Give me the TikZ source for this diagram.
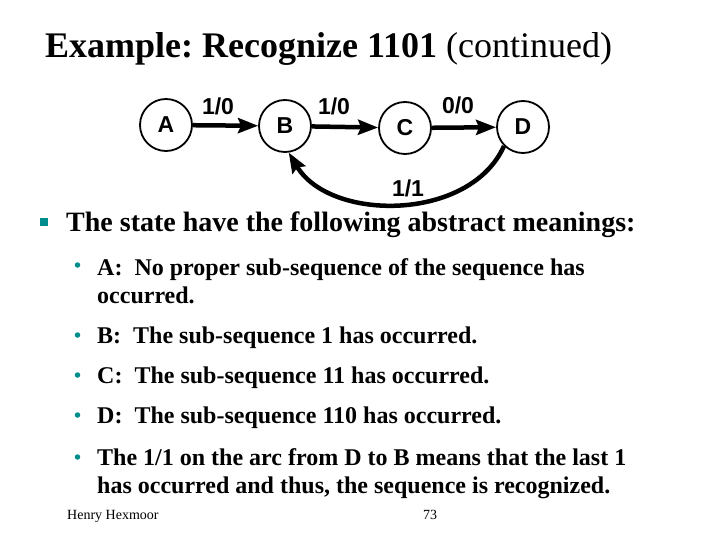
\documentclass[tikz,border=0pt]{standalone}
\usepackage{fontspec}
\setmainfont{Liberation Serif}
\newfontfamily\arialf{Liberation Sans}
\usepackage{xcolor}
\usetikzlibrary{arrows.meta,positioning}
\definecolor{bulletteal}{RGB}{0,140,140}
\frenchspacing

\begin{document}
\begin{tikzpicture}[
  x=1pt,y=-1pt,
  state/.style={circle,draw,line width=1.8pt,minimum size=52pt,inner sep=0pt,
    font=\arialf\fontsize{23}{23}\selectfont\bfseries},
  trans/.style={-{Stealth[length=20pt,width=15pt,inset=3pt]},line width=4.5pt},
  lbl/.style={inner sep=0pt,font=\arialf\fontsize{23}{23}\selectfont\bfseries},
  line/.style={anchor=base west,inner sep=0pt},
  subline/.style={line,font=\fontsize{24}{28}\selectfont\bfseries},
  dot/.style={circle,fill=bulletteal,inner sep=0pt,minimum size=5.5pt}
]
\useasboundingbox (0,0) rectangle (720,540);

% title
\node[line] (title) at (45,58) {\fontsize{36}{40}\selectfont\bfseries Example: Recognize 1101 \mdseries(continued)};

% the state machine
\node[state] (A) at (166,125) {A};
\node[state] (B) at (285,126) {B};
\node[state] (C) at (405,128) {C};
\node[state] (D) at (523,127) {D};

\draw[trans] (A) -- (B);
\draw[trans] (B) -- (C);
\draw[trans] (C) -- (D);
\draw[trans] (D.225) .. controls (470,222) and (330,222) .. (B.-82);
\node[lbl] (ab) at (218,106) {1/0};
\node[lbl] (bc) at (334,106) {1/0};
\node[lbl] (cd) at (458,105) {0/0};
\node[lbl] (db) at (408,188) {1/1};

% bullets
\node[rectangle,fill=bulletteal,inner sep=0pt,minimum size=8pt] (sq) at (44,222) {};
\node[line,font=\fontsize{28}{32}\selectfont\bfseries] (meaning) at (66,232) {The state have the following abstract meanings:};

\node[dot] (d1) at (77.5,265) {};
\node[subline] (la) at (97,275) {A:\ \ No proper sub-sequence of the sequence has};
\node[subline] (la2) at (97,303) {occurred.};
\node[dot] (d2) at (77.5,335) {};
\node[subline] (lb) at (97,343) {B:\ \ The sub-sequence 1 has occurred.};
\node[dot] (d3) at (77.5,375) {};
\node[subline] (lc) at (97,383) {C:\ \ The sub-sequence 11 has occurred.};
\node[dot] (d4) at (77.5,415) {};
\node[subline] (ld) at (97,423) {D:\ \ The sub-sequence 110 has occurred.};
\node[dot] (d5) at (77.5,457) {};
\node[subline] (le) at (97,465) {The 1/1 on the arc from D to B means that the last 1};
\node[subline] (le2) at (97,493) {has occurred and thus, the sequence is recognized.};

% footer
\node[line,font=\fontsize{14}{14}\selectfont] (author) at (67,519) {Henry Hexmoor};
\node[line,font=\fontsize{14}{14}\selectfont] (page) at (423,519) {73};
\end{tikzpicture}
\end{document}
